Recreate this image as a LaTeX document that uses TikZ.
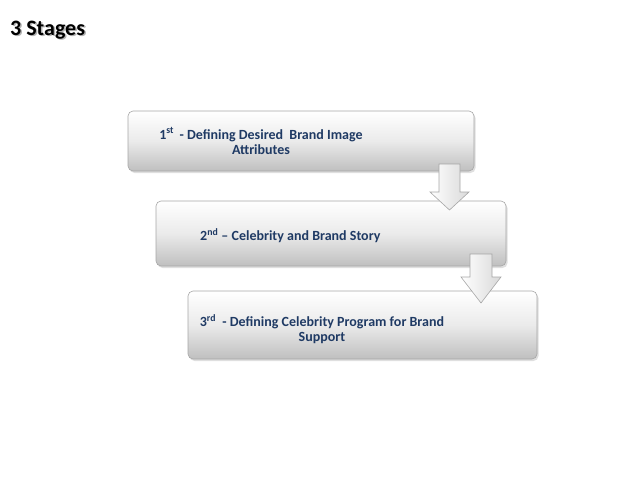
\documentclass[tikz,border=0pt]{standalone}
\usepackage{fontspec}
\setmainfont{Carlito}
\usetikzlibrary{shadows,shapes.arrows}
\definecolor{txtblue}{HTML}{1F3A64}
\definecolor{edgegray}{HTML}{A6A6A6}
\tikzset{
  stagebox/.style={draw=edgegray, line width=0.6pt, rounded corners=5pt,
    top color=white, bottom color=black!25, middle color=black!8,
    drop shadow={shadow xshift=1.5pt, shadow yshift=-2pt, opacity=0.25}},
  stagetext/.style={text=txtblue, font=\bfseries\fontsize{14}{15}\selectfont, align=center, inner sep=0pt},
  downarrow/.style={draw=edgegray, line width=0.6pt, left color=white, right color=black!15}
}
\begin{document}
\begin{tikzpicture}[x=1pt,y=-1pt]
\useasboundingbox (0,0) rectangle (638,479);
% title
\node[text=black!30, font=\bfseries\fontsize{22}{24}\selectfont, anchor=west, inner sep=0pt] (titleshadow) at (11.5,31.5) {3 Stages};
\node[text=black, font=\bfseries\fontsize{22}{24}\selectfont, anchor=west, inner sep=0pt] (title) at (10,30) {3 Stages};
% boxes
\path[stagebox] (128,111) rectangle (474,171);
\node (b1) at (301,141) {};
\path[stagebox] (156,201) rectangle (506,266);
\node (b2) at (331,233) {};
\path[stagebox] (188,291) rectangle (537,359);
\node (b3) at (362,325) {};
% texts
\node[stagetext] (t1) at (261,141) {1\textsuperscript{st}\, - Defining Desired\ \ Brand Image\\Attributes};
\node[stagetext, anchor=west] (t2) at (200,236) {2\textsuperscript{nd} – Celebrity and Brand Story};
\node[stagetext] (t3) at (322,329) {3\textsuperscript{rd}\ \ - Defining Celebrity Program for Brand\\Support};
% arrows
\coordinate (a1) at (449,164);
\coordinate (a2) at (481,254);
\path[downarrow] (439,164) -- (460,164) -- (460,192) -- (469,192) -- (449.5,210) -- (430,192) -- (439,192) -- cycle;
\path[downarrow] (470,254) -- (492,254) -- (492,277) -- (501,277) -- (481,303) -- (461,277) -- (470,277) -- cycle;
\end{tikzpicture}
\end{document}
